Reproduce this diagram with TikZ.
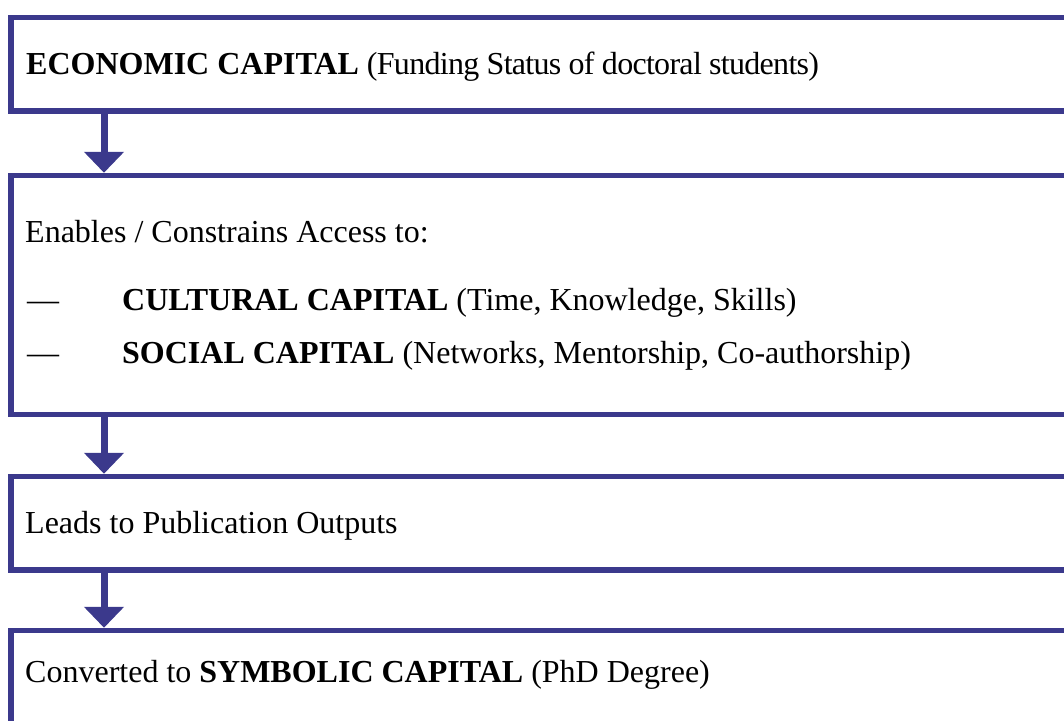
\documentclass[tikz,border=0pt]{standalone}
\usepackage{fontspec}
\setmainfont{Liberation Serif}
\usetikzlibrary{arrows.meta}
\definecolor{capblue}{RGB}{59,57,140}
\tikzset{
  capbox/.style={draw=capblue, line width=5.5pt, rectangle, inner sep=0pt, fill=none},
  captext/.style={anchor=base west, inner sep=0pt, font=\fontsize{32}{38}\selectfont, text=black},
  flowarrow/.style={draw=capblue, line width=7pt, -{Triangle[width=39pt,length=21pt]}, fill=capblue}
}
\begin{document}
\begin{tikzpicture}[x=1pt,y=-1pt]
\useasboundingbox (0,0) rectangle (1064,720);
\begin{scope}
\clip (0,0) rectangle (1064,720);
\node[capbox, minimum width=1069pt, minimum height=93.5pt] (b1) at (545.5,64.25) {};
\node[capbox, minimum width=1069pt, minimum height=239pt] (b2) at (545.5,295) {};
\node[capbox, minimum width=1069pt, minimum height=93.5pt] (b3) at (545.5,523.25) {};
\node[capbox, minimum width=1069pt, minimum height=159.5pt] (b4) at (545.5,710.25) {};
\coordinate (ax) at (104,0);
\draw[flowarrow] (b1.south -| ax) -- (b2.north -| ax);
\draw[flowarrow] (b2.south -| ax) -- (b3.north -| ax);
\draw[flowarrow] (b3.south -| ax) -- (b4.north -| ax);
\node[captext] (t1) at (26,74) {\textbf{ECONOMIC CAPITAL} {\addfontfeatures{LetterSpace=-2.2}(Funding Status of doctoral students)}};
\node[captext] (t2) at (25,242) {Enables / Constrains Access to:};
\node[captext] (d1) at (27,310) {—};
\node[captext] (t3) at (122,310) {\textbf{CULTURAL CAPITAL} (Time, Knowledge, Skills)};
\node[captext] (d2) at (27,363) {—};
\node[captext] (t4) at (122,363) {\textbf{SOCIAL CAPITAL} (Networks, Mentorship, Co-authorship)};
\node[captext] (t5) at (25,533) {Leads to Publication Outputs};
\node[captext] (t6) at (25,682) {Converted to \textbf{SYMBOLIC CAPITAL} (PhD Degree)};
\end{scope}
\end{tikzpicture}
\end{document}
